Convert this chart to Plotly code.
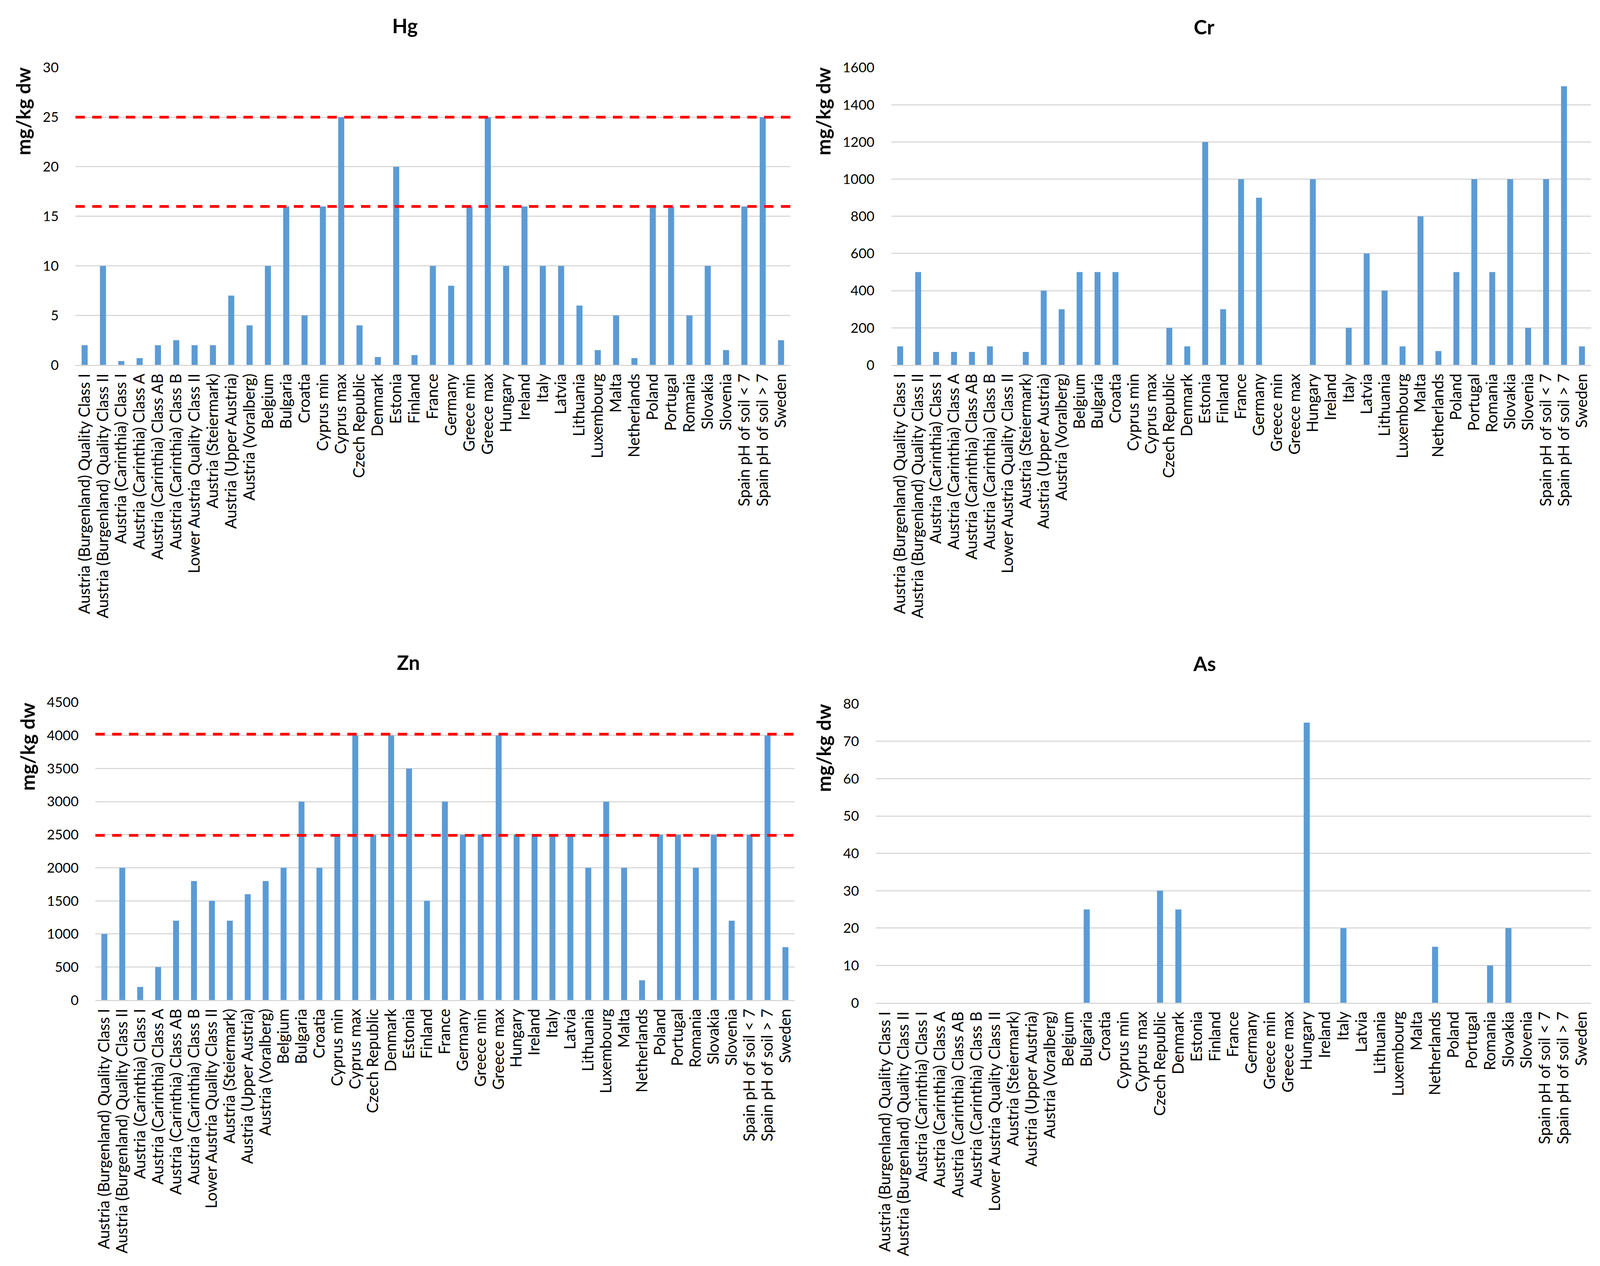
import plotly.graph_objects as go

categories = [
    "Austria (Burgenland) Quality Class I",
    "Austria (Burgenland) Quality Class II",
    "Austria (Carinthia) Class I",
    "Austria (Carinthia) Class A",
    "Austria (Carinthia) Class AB",
    "Austria (Carinthia) Class B",
    "Lower Austria Quality Class II",
    "Austria (Steiermark)",
    "Austria (Upper Austria)",
    "Austria (Voralberg)",
    "Belgium", "Bulgaria", "Croatia", "Cyprus min", "Cyprus max",
    "Czech Republic", "Denmark", "Estonia", "Finland", "France", "Germany",
    "Greece min", "Greece max", "Hungary", "Ireland", "Italy", "Latvia",
    "Lithuania", "Luxembourg", "Malta", "Netherlands", "Poland", "Portugal",
    "Romania", "Slovakia", "Slovenia", "Spain pH of soil < 7",
    "Spain pH of soil > 7", "Sweden",
]

hg_values = [2, 10, 0.4, 0.7, 2, 2.5, 2, 2, 7, 4, 10, 16, 5, 16, 25, 4, 0.8, 20,
             1, 10, 8, 16, 25, 10, 16, 10, 10, 6, 1.5, 5, 0.7, 16, 16, 5, 10,
             1.5, 16, 25, 2.5]
cr_values = [100, 500, 70, 70, 70, 100, None, 70, 400, 300, 500, 500, 500, None,
             None, 200, 100, 1200, 300, 1000, 900, None, None, 1000, None, 200,
             600, 400, 100, 800, 75, 500, 1000, 500, 1000, 200, 1000, 1500, 100]
zn_values = [1000, 2000, 200, 500, 1200, 1800, 1500, 1200, 1600, 1800, 2000,
             3000, 2000, 2500, 4000, 2500, 4000, 3500, 1500, 3000, 2500, 2500,
             4000, 2500, 2500, 2500, 2500, 2000, 3000, 2000, 300, 2500, 2500,
             2000, 2500, 1200, 2500, 4000, 800]
as_values = [None, None, None, None, None, None, None, None, None, None, None,
             25, None, None, None, 30, 25, None, None, None, None, None, None,
             75, None, 20, None, None, None, None, 15, None, None, 10, 20,
             None, None, None, None]

hg_limits = [16, 25]
zn_limits = [2490, 4020]

# reference picture size (used for relative placement)
W, H = 4560, 3241

BAR = "#5b9bd5"
GRID = "#d9d9d9"
FONT = "Lato"

panels = [
    ("Hg", hg_values, 30, 5, (207, 2252), (166, 931), hg_limits, (1150, 58), (57, 279)),
    ("Cr", cr_values, 1600, 200, (2541, 4543), (166, 931), [], (3436, 61), (2346, 279)),
    ("Zn", zn_values, 4500, 500, (264, 2264), (1799, 2565), zn_limits, (1159, 1696), (69, 1913)),
    ("As", as_values, 80, 10, (2497, 4543), (1803, 2572), [], (3437, 1699), (2346, 1917)),
]

fig = go.Figure()
layout = dict(
    autosize=True, margin=dict(l=0, r=0, t=0, b=0, pad=0),
    paper_bgcolor="white", plot_bgcolor="white", showlegend=False,
    bargap=0.67, font=dict(family=FONT, color="black"),
)
annotations = []
shapes = []

for i, (name, vals, ymax, dtick, (px0, px1), (ptop, pbot), limits, tpos, ypos) in enumerate(panels):
    n = "" if i == 0 else str(i + 1)
    xa, ya = "x" + n, "y" + n
    fig.add_trace(go.Bar(x=categories, y=vals, marker=dict(color=BAR, line=dict(width=0)),
                         xaxis=xa, yaxis=ya))
    layout["xaxis" + n] = dict(
        domain=[px0 / W, px1 / W], anchor=ya, type="category",
        tickmode="array", tickvals=categories, ticktext=categories,
        tickangle=-90, tickfont=dict(family=FONT, size=40, color="black"),
        showline=True, linecolor=GRID, linewidth=3, showgrid=False,
        ticks="", automargin=False, ticklabelstandoff=3,
    )
    layout["yaxis" + n] = dict(
        domain=[1 - pbot / H, 1 - ptop / H], anchor=xa, range=[0, ymax],
        dtick=dtick, tick0=0, showgrid=True, gridcolor=GRID, gridwidth=2.5,
        zeroline=False, showline=False, ticks="",
        tickfont=dict(family=FONT, size=35, color="black"),
        automargin=False, ticklabelstandoff=42,
    )
    annotations.append(dict(text="<b>%s</b>" % name, x=tpos[0] / W, y=1 - tpos[1] / H,
                            xref="paper", yref="paper", showarrow=False,
                            xanchor="center", yanchor="middle",
                            font=dict(family=FONT, size=51, color="black")))
    annotations.append(dict(text="<b>mg/kg dw</b>", x=ypos[0] / W, y=1 - ypos[1] / H,
                            xref="paper", yref="paper", showarrow=False, textangle=-90,
                            xanchor="center", yanchor="middle",
                            font=dict(family=FONT, size=50, color="black")))
    for lim in limits:
        shapes.append(dict(type="line", xref=xa + " domain", yref=ya,
                           x0=0, x1=1.004, y0=lim, y1=lim,
                           line=dict(color="#ff0000", width=7, dash="24px,19px")))

layout["annotations"] = annotations
layout["shapes"] = shapes
fig.update_layout(**layout)
fig.write_html("out.html", default_width="calc(100vw - 16px)",
               default_height="calc(100vh - 16px)")
